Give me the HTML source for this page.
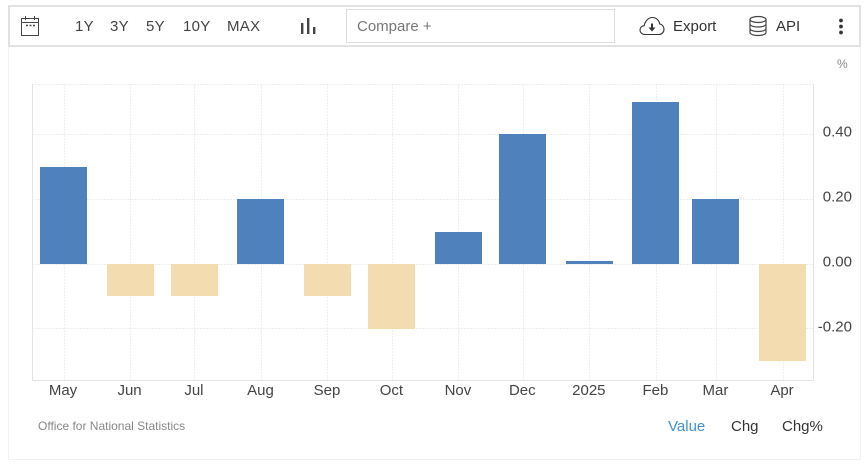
<!DOCTYPE html>
<html lang="en">
<head>
<meta charset="utf-8">
<title>Chart</title>
<style>
html,body{margin:0;padding:0;background:#fff;}
body{width:867px;height:468px;position:relative;overflow:hidden;font-family:"Liberation Sans",sans-serif;}
.abs{position:absolute;}
.btn{position:absolute;top:17px;font-size:15px;line-height:19px;color:#444;white-space:nowrap;}
.rng{letter-spacing:.3px;}
</style>
</head>
<body>
<div class="abs" style="left:8px;top:46px;width:853px;height:414px;border:1px solid #f2f2f2;border-top:none;box-sizing:border-box;"></div>
<div class="abs" style="left:8px;top:5px;width:853px;height:42px;border:2px solid #e2e2e2;box-sizing:border-box;"></div>

<svg class="abs" style="left:20px;top:15px" width="20" height="22" viewBox="0 0 20 22" fill="none" stroke="#444" stroke-width="1">
<rect x="1.5" y="3.5" width="17" height="17"/><line x1="1.5" y1="7.5" x2="18.5" y2="7.5"/><line x1="5.5" y1="1" x2="5.5" y2="5"/><line x1="14.5" y1="1" x2="14.5" y2="5"/><path d="M6 10.500h2M9.500 10.500h2M13 10.500h2" stroke-width="1.400"/>
</svg>
<div class="btn rng" style="left:75px">1Y</div>
<div class="btn rng" style="left:110px">3Y</div>
<div class="btn rng" style="left:146px">5Y</div>
<div class="btn rng" style="left:183px">10Y</div>
<div class="btn rng" style="left:227px">MAX</div>
<svg class="abs" style="left:299px;top:17px" width="18" height="18" viewBox="0 0 18 18" fill="#444">
<rect x="2" y="6" width="2.400" height="11"/><rect x="8" y="1" width="2.400" height="16"/><rect x="14" y="10" width="2.400" height="7"/>
</svg>
<div class="abs" style="left:346px;top:9px;width:269px;height:34px;border:1px solid #ddd;box-sizing:border-box;font-size:15px;line-height:33px;padding-left:10px;color:#777;">Compare +</div>
<svg class="abs" style="left:639px;top:16px" width="26" height="20" viewBox="0 0 26 20" fill="none" stroke="#333" stroke-width="1.100">
<path d="M6 18.500C2.800 18.500 1 16.400 1 14c0-2.400 1.900-4.200 4.200-4.300C6 5 9.500 1.500 13.500 1.500c3.800 0 6.700 2.900 7.300 6.500 2.500.4 4.200 2.700 4.200 5.200 0 2.900-2.200 5.300-5 5.300z"/>
<path d="M13 7.500v5.500" stroke-width="2"/><path d="M9.500 11.500h7L13 15.500z" fill="#333" stroke="none"/>
</svg>
<div class="btn" style="left:673px;color:#333">Export</div>
<svg class="abs" style="left:748px;top:15px" width="20" height="22" viewBox="0 0 20 22" fill="none" stroke="#444" stroke-width="1.200">
<ellipse cx="10" cy="4.500" rx="8" ry="3"/><path d="M2 4.500v13c0 1.700 3.600 3 8 3s8-1.300 8-3v-13M2 9c0 1.700 3.600 3 8 3s8-1.300 8-3M2 13.500c0 1.700 3.600 3 8 3s8-1.300 8-3"/>
</svg>
<div class="btn" style="left:776px;color:#333">API</div>
<svg class="abs" style="left:837px;top:18px" width="8" height="18" viewBox="0 0 8 18" fill="#333">
<circle cx="4" cy="2.500" r="1.900"/><circle cx="4" cy="8.500" r="1.900"/><circle cx="4" cy="14.500" r="1.900"/>
</svg>

<svg class="abs" id="chart" style="left:0;top:0" width="867" height="468" xmlns="http://www.w3.org/2000/svg"></svg>

<div class="abs" style="left:837px;top:57px;font-size:12px;line-height:15px;color:#888;">%</div>
<div class="abs" style="left:38px;top:419px;font-size:12px;line-height:15px;color:#888;">Office for National Statistics</div>
<div class="btn" style="left:668px;top:417px;color:#3f93d6;">Value</div>
<div class="btn" style="left:731px;top:417px;color:#333;">Chg</div>
<div class="btn" style="left:782px;top:417px;color:#333;">Chg%</div>

<script>
const categories = ["May","Jun","Jul","Aug","Sep","Oct","Nov","Dec","2025","Feb","Mar","Apr"];
const dates = ["2024-05-01","2024-06-01","2024-07-01","2024-08-01","2024-09-01","2024-10-01","2024-11-01","2024-12-01","2025-01-01","2025-02-01","2025-03-01","2025-04-01"];
const values = [0.3,-0.1,-0.1,0.2,-0.1,-0.2,0.1,0.4,0.01,0.5,0.2,-0.3];
const yTicks = [0.4,0.2,0,-0.2];
const yTickLabels = ["0.40","0.20","0.00","-0.20"];

const svg = document.getElementById('chart');
const NS = 'http://www.w3.org/2000/svg';
const plot = {left:32.5,right:813.5,top:84.5,bottom:380.5};
const t0 = Date.parse(dates[0]);
const t1 = Date.parse(dates[dates.length-1]);
function xAt(d){ return 63.5 + (Date.parse(d)-t0)/(t1-t0)*719; }
function yAt(v){ return 264 - v*324.500; }
function make(tag,attrs){
  const el = document.createElementNS(NS,tag);
  for(const k in attrs) el.setAttribute(k,attrs[k]);
  svg.appendChild(el);
  return el;
}
const gridStyle = {stroke:'#dedede','stroke-width':1,'stroke-dasharray':'1 2',fill:'none'};
[plot.top].concat(yTicks.map(yAt)).forEach(function(y){
  const yy = Math.floor(y)+0.5;
  const g = make('line',Object.assign({x1:plot.left,x2:plot.right,y1:yy,y2:yy},gridStyle));
  
  
});
dates.forEach(function(d){
  const x = Math.round(xAt(d))+0.5;
  const g = make('line',Object.assign({x1:x,x2:x,y1:plot.top,y2:plot.bottom},gridStyle));
  
  
});
const leftAxis = make('line',{x1:plot.left,x2:plot.left,y1:plot.top,y2:plot.bottom,stroke:'#e3e3e3'});


const rightAxis = make('line',{x1:plot.right,x2:plot.right,y1:plot.top,y2:plot.bottom,stroke:'#e3e3e3'});


const bottomAxis = make('line',{x1:plot.left,x2:plot.right,y1:plot.bottom,y2:plot.bottom,stroke:'#e3e3e3'});



const barWidth = 47;
values.forEach(function(v,i){
  const x = xAt(dates[i]);
  const y0 = yAt(0), y1 = yAt(v);
  const bar = make('rect',{x:Math.round(x-barWidth/2),y:Math.round(Math.min(y0,y1)),width:barWidth,height:Math.round(Math.abs(y1-y0)),fill:v>=0?'#4f81bd':'#f3dcb0','shape-rendering':'crispEdges'});
  
  
});
categories.forEach(function(c,i){
  const t = make('text',{x:xAt(dates[i])-0.5,y:395,'text-anchor':'middle','font-size':15,fill:'#444','font-family':'"Liberation Sans",sans-serif'});
  t.textContent = c;
  
  
});
yTicks.forEach(function(v,i){
  const t = make('text',{x:852,y:yAt(v)+2.500,'text-anchor':'end','font-size':15,fill:'#444','font-family':'"Liberation Sans",sans-serif'});
  t.textContent = yTickLabels[i];
  
  
});
</script>
</body>
</html>
